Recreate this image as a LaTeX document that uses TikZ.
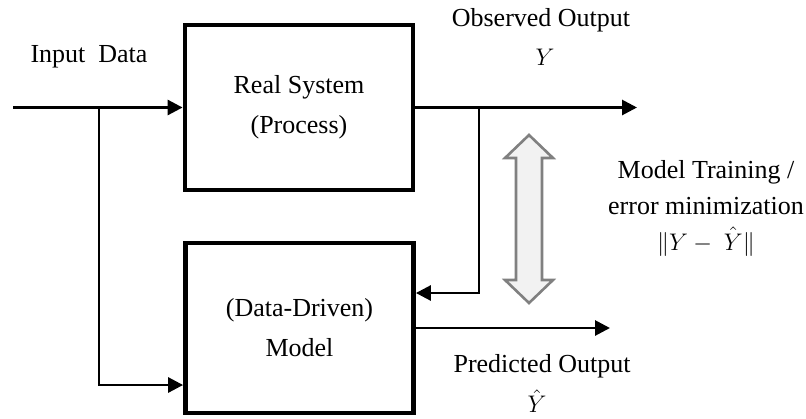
\documentclass[tikz,border=0pt]{standalone}
\usepackage{amsmath}
\usepackage{fontspec}
\setmainfont{Liberation Serif}
\usetikzlibrary{arrows.meta,positioning}

\begin{document}
\begin{tikzpicture}[x=0.5pt,y=-0.5pt,
font=\fontsize{13}{15}\selectfont,
blk/.style={draw,line width=2.4pt,minimum width=114pt,inner sep=0pt,align=center},
sig/.style={line width=1.4pt,-{Triangle[length=7.5pt,width=7.5pt]}},
dbl/.style={draw=black!50,fill=black!5,line width=1.3pt,line join=miter}]
\useasboundingbox (0,0) rectangle (806,418);
\node[blk,minimum height=82.5pt] (sys) at (299,107.5) {Real System\\[5pt](Process)};
\node[blk,minimum height=85pt] (mdl) at (299.5,328) {(Data-Driven)\\[5pt]Model};
\coordinate (src) at (13,107.5);
\coordinate (split) at (99,107.5);
\coordinate (tap) at (479,107.5);
\coordinate (yobs) at (637,107.5);
\coordinate (yhat) at (610,328);
\path[sig]
(src) edge (sys)
(split) edge[to path={|- (\tikztotarget)}] ([yshift=-28.5pt]mdl.west)
(tap) edge[to path={|- (\tikztotarget)}] ([yshift=17.5pt]mdl.east)
(sys) edge (yobs)
(mdl) edge (yhat);
\draw[dbl] (529,135) -- (553,158) -- (542,158) -- (542,280) -- (553,280)
 -- (529,303) -- (505,280) -- (516,280) -- (516,158) -- (505,158) -- cycle;
\node (inp) at (89,57) {Input\ \ Data};
\node (obs) at (541,20) {Observed Output};
\node (obsy) at (545,57) {$Y$};
\node (pred) at (542,366) {Predicted Output};
\node (predy) at (537,401) {$\hat{Y}$};
\node[align=center] (train) at (706,208) {Model Training /\\[3pt]error minimization\\[3pt]$\| Y-\ \hat{Y}\|$};
\end{tikzpicture}
\end{document}
